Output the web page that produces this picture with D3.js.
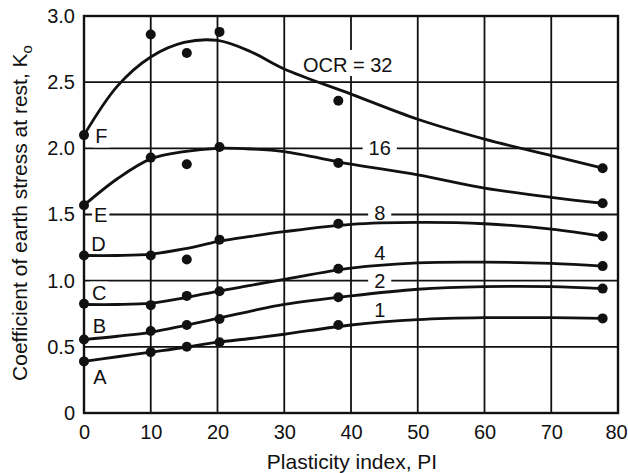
<!DOCTYPE html>
<html>
<head>
<meta charset="utf-8">
<script src="https://cdn.jsdelivr.net/npm/d3@7"></script>
<style>
  html, body { margin: 0; padding: 0; background: #fff; }
  svg { display: block; font-family: "Liberation Sans", Arial, Helvetica, sans-serif; }
</style>
</head>
<body>
<svg id="chart" width="628" height="473"></svg>
<script>
// Plasticity index of the tested soils (x position of the measured points)
const piTested = [0, 10, 15.4, 20.3, 38.1, 77.7];

// Measured K0 for each overconsolidation ratio
const koMeasured32 = [2.10, 2.86, 2.72, 2.88, 2.36, 1.85];
const koMeasured16 = [1.57, 1.93, 1.88, 2.01, 1.89, 1.585];
const koMeasured8  = [1.19, 1.19, 1.16, 1.31, 1.43, 1.335];
const koMeasured4  = [0.825, 0.815, 0.885, 0.92, 1.09, 1.11];
const koMeasured2  = [0.555, 0.62, 0.665, 0.71, 0.875, 0.94];
const koMeasured1  = [0.39, 0.46, 0.50, 0.535, 0.665, 0.715];

// Smoothed trend curves, sampled along PI
const piFit = [0, 5, 10, 15, 20, 25, 30, 40, 50, 60, 70, 77.7];
const koFit32 = [2.10, 2.47, 2.69, 2.80, 2.815, 2.73, 2.60, 2.41, 2.22, 2.07, 1.945, 1.85];
const koFit16 = [1.57, 1.77, 1.92, 1.975, 2.00, 1.995, 1.975, 1.88, 1.80, 1.70, 1.63, 1.585];
const koFit8  = [1.19, 1.19, 1.20, 1.24, 1.295, 1.335, 1.37, 1.425, 1.44, 1.43, 1.39, 1.335];
const koFit4  = [0.82, 0.82, 0.83, 0.87, 0.92, 0.965, 1.01, 1.095, 1.135, 1.14, 1.13, 1.11];
const koFit2  = [0.555, 0.58, 0.61, 0.66, 0.715, 0.77, 0.82, 0.885, 0.935, 0.955, 0.955, 0.94];
const koFit1  = [0.39, 0.425, 0.46, 0.495, 0.535, 0.563, 0.595, 0.665, 0.705, 0.72, 0.72, 0.715];

// Curve identifiers
const ocrValues = [32, 16, 8, 4, 2, 1];
const curveLetters = ["F", "E", "D", "C", "B", "A"];

// Axis ticks
const piTicks = [0, 10, 20, 30, 40, 50, 60, 70, 80];
const koTicks = [0, 0.5, 1.0, 1.5, 2.0, 2.5, 3.0];
const koTickLabels = ["0", "0.5", "1.0", "1.5", "2.0", "2.5", "3.0"];

const measured = [koMeasured32, koMeasured16, koMeasured8, koMeasured4, koMeasured2, koMeasured1];
const fitted = [koFit32, koFit16, koFit8, koFit4, koFit2, koFit1];

const svg = d3.select("#chart");
const plotLeft = 84, plotRight = 618, plotTop = 16, plotBottom = 413;

const x = d3.scaleLinear().domain([0, 80]).range([plotLeft, plotRight]);
const y = d3.scaleLinear().domain([0, 3]).range([plotBottom, plotTop]);

// Grid
const grid = svg.append("g").attr("stroke", "#111").attr("stroke-width", 1.8);
grid.selectAll("line.v").data(piTicks).join("line").attr("class", "v")
  .attr("x1", d => x(d)).attr("x2", d => x(d))
  .attr("y1", plotTop).attr("y2", plotBottom);
grid.selectAll("line.h").data(koTicks).join("line").attr("class", "h")
  .attr("x1", plotLeft).attr("x2", plotRight)
  .attr("y1", d => y(d)).attr("y2", d => y(d));

// Frame
svg.append("rect")
  .attr("x", plotLeft).attr("y", plotTop)
  .attr("width", plotRight - plotLeft).attr("height", plotBottom - plotTop)
  .attr("fill", "none").attr("stroke", "#111").attr("stroke-width", 2.4);

// Axis tick labels
const xAxis = d3.axisBottom(x).tickValues(piTicks).tickSize(0).tickPadding(12)
  .tickFormat(d3.format("d"));
const gx = svg.append("g").attr("transform", `translate(0,${plotBottom})`).call(xAxis);
gx.select(".domain").remove();
gx.selectAll("text").attr("font-size", 20).attr("fill", "#111")
  .attr("font-family", "Liberation Sans, Arial, sans-serif")
  .attr("dx", d => d === 80 ? -2 : 0);

const yAxis = d3.axisLeft(y).tickValues(koTicks).tickSize(0).tickPadding(9)
  .tickFormat((d, i) => koTickLabels[i]);
const gy = svg.append("g").attr("transform", `translate(${plotLeft},0)`).call(yAxis);
gy.select(".domain").remove();
gy.selectAll("text").attr("font-size", 20).attr("fill", "#111")
  .attr("font-family", "Liberation Sans, Arial, sans-serif");

// Axis titles
svg.append("text")
  .attr("x", 352).attr("y", 469)
  .attr("text-anchor", "middle").attr("font-size", 21).attr("fill", "#111")
  .text("Plasticity index, PI");

const yTitle = svg.append("text")
  .attr("transform", "translate(27,213) rotate(-90)")
  .attr("text-anchor", "middle").attr("font-size", 21).attr("fill", "#111");
yTitle.append("tspan").text("Coefficient of earth stress at rest, K");
yTitle.append("tspan").attr("font-size", 15).attr("dy", 5).text("o");

// OCR labels along the curves, and the curve letters at PI = 0
const ocrLabelAt = [[39.5, 2.63], [44.3, 2.0], [44.3, 1.51], [44.3, 1.21], [44.3, 1.0], [44.3, 0.775]];
const letterAt = [[1.7, 2.09], [1.5, 1.5], [1.1, 1.28], [1.2, 0.91], [1.3, 0.66], [1.4, 0.27]];

const labels = svg.append("g");
const curvesLayer = svg.append("g");
const textLayer = svg.append("g").attr("fill", "#111");

function placeLabel(str, px, py, size, anchor, padX, padTop, padBottom) {
  const t = textLayer.append("text")
    .attr("x", px).attr("y", py).attr("dy", "0.35em")
    .attr("text-anchor", anchor).attr("font-size", size).text(str);
  const b = t.node().getBBox();
  labels.append("rect")
    .attr("x", b.x - padX).attr("y", b.y - padTop)
    .attr("width", b.width + 2 * padX).attr("height", b.height + padTop + padBottom)
    .attr("fill", "#fff");
}

ocrValues.forEach((v, i) => {
  const str = i === 0 ? `OCR = ${v}` : `${v}`;
  placeLabel(str, x(ocrLabelAt[i][0]), y(ocrLabelAt[i][1]), 20, "middle", i === 0 ? 2 : 6, i === 0 ? 4 : 0, 0);
});
curveLetters.forEach((c, i) => {
  placeLabel(c, x(letterAt[i][0]), y(letterAt[i][1]), 20, "start", 2, 0, 0);
});

// Trend curves
const line = d3.line()
  .x((d, i) => x(piFit[i]))
  .y(d => y(d))
  .curve(d3.curveCatmullRom.alpha(0.5));

curvesLayer.selectAll("path").data(fitted).join("path")
  .attr("d", d => line(d))
  .attr("fill", "none").attr("stroke", "#111").attr("stroke-width", 2.8)
  .attr("stroke-linecap", "round");

// Measured points
measured.forEach(series => {
  curvesLayer.append("g").selectAll("circle").data(series).join("circle")
    .attr("cx", (d, i) => x(piTested[i]))
    .attr("cy", d => y(d))
    .attr("r", 5)
    .attr("fill", "#111");
});
</script>
</body>
</html>
